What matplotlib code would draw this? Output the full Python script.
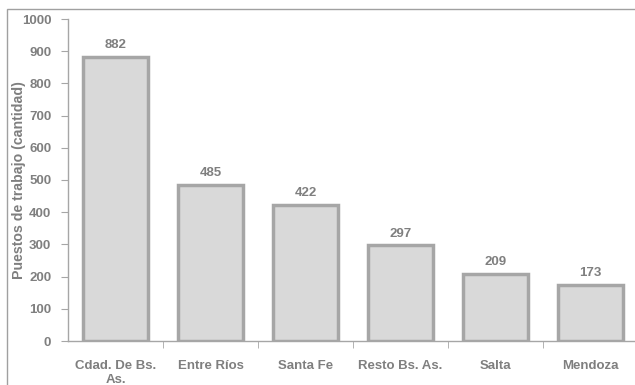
import matplotlib
matplotlib.use("Agg")
from matplotlib import pyplot as plt
from matplotlib.patches import Rectangle

# data
provincias = ["Cdad. De Bs.\nAs.", "Entre Ríos", "Santa Fe", "Resto Bs. As.", "Salta", "Mendoza"]
puestos = [882, 485, 422, 297, 209, 173]

gris_txt = "#7f7f7f"
gris_eje = "#a6a6a6"
fs = 9.5

plt.rcParams["font.family"] = ["Liberation Sans", "DejaVu Sans"]
plt.rcParams["font.weight"] = "bold"

fig = plt.figure(figsize=(6.35, 3.85), dpi=100)
# outer chart border
fig.patches.append(Rectangle((7 / 635, -0.1), 1.2, 1 - 9 / 385 + 0.1,
                             transform=fig.transFigure, fill=False,
                             edgecolor="#a0a0a0", linewidth=1.0))

ax = fig.add_axes([68 / 635, 1 - 341 / 385, 570 / 635, 322 / 385])
x = range(len(puestos))
ax.bar(x, puestos, width=0.68, color="#d9d9d9", edgecolor=gris_eje, linewidth=2.5)

for xi, v in zip(x, puestos):
    ax.text(xi, v + 18, str(v), ha="center", va="bottom", fontsize=fs,
            color=gris_txt, fontweight="bold")

ax.set_xlim(-0.5, len(puestos) - 0.5)
ax.set_ylim(0, 1000)
ax.set_yticks(range(0, 1001, 100))
ax.set_xticks(x)
ax.set_xticklabels(provincias, fontsize=fs, color=gris_txt, fontweight="bold")
ax.set_xticks([i + 0.5 for i in range(len(puestos) - 1)], minor=True)
ax.tick_params(axis="x", which="major", length=0, pad=14)
ax.tick_params(axis="x", which="minor", length=5, color=gris_eje)
ax.tick_params(axis="y", length=5, color=gris_eje, labelcolor=gris_txt, labelsize=fs, pad=7)
for lbl in ax.get_yticklabels():
    lbl.set_fontweight("bold")

ax.set_ylabel("Puestos de trabajo (cantidad)", fontsize=10.2, color=gris_txt,
              fontweight="bold")
ax.yaxis.set_label_coords(-42 / 570, 0.5)

for s in ["top", "right"]:
    ax.spines[s].set_visible(False)
for s in ["left", "bottom"]:
    ax.spines[s].set_color(gris_eje)
    ax.spines[s].set_linewidth(1.0)

fig.savefig("out.png", dpi=100)
